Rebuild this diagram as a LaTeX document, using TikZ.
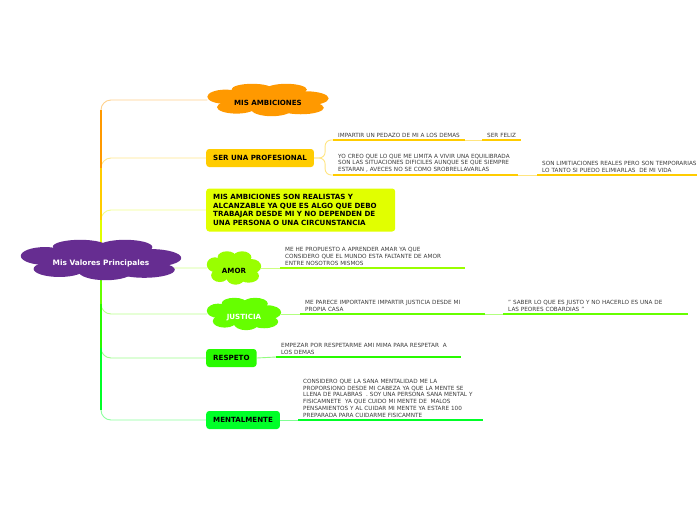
\documentclass[tikz,border=0pt]{standalone}
\usepackage{fontspec}
\setmainfont{DejaVu Sans}
\usetikzlibrary{positioning,calc,backgrounds}

\definecolor{rootcol}{RGB}{102,45,145}
\definecolor{ambcol}{RGB}{255,153,0}
\definecolor{sercol}{RGB}{255,204,0}
\definecolor{realcol}{RGB}{225,255,0}
\definecolor{amorcol}{RGB}{153,255,0}
\definecolor{justcol}{RGB}{102,255,0}
\definecolor{respcol}{RGB}{40,250,0}
\definecolor{mentcol}{RGB}{0,255,40}
\definecolor{notecol}{RGB}{60,60,60}

\begin{document}
\begin{tikzpicture}[
  x=1pt, y=-1pt,
  topic/.style={rectangle, rounded corners=3pt, anchor=west, minimum height=18pt, inner xsep=7pt, inner ysep=2pt, align=left, font=\bfseries\fontsize{7.1}{8.6}\selectfont},
  puff/.style={rectangle, inner sep=0pt, text height=11pt, text depth=0pt, font=\bfseries\fontsize{7.1}{8.6}\selectfont},
  note/.style={anchor=south west, text width=175pt, inner xsep=5pt, inner ysep=2.5pt, align=left, text=notecol, font=\fontsize{5.7}{6.8}\selectfont},
  uline/.style={line width=2.4pt},
  link/.style={line width=0.9pt, rounded corners=10pt},
  stem/.style={line width=1.6pt}
]
  \useasboundingbox (0,0) rectangle (697,520);

  % main topic and branches
  \node[puff, text=white, minimum width=160pt, minimum height=40pt, font=\bfseries\fontsize{7.4}{9}\selectfont] (root) at (101,260) {Mis Valores Principales};
  \node[puff, minimum width=121pt, minimum height=32pt] (amb) at (268,100) {MIS AMBICIONES};
  \node[topic, fill=sercol] (ser) at (206,158) {SER UNA PROFESIONAL};
  \node[topic, fill=realcol, text width=175pt, minimum height=43pt] (real) at (206,210) {MIS AMBICIONES SON REALISTAS Y\\ALCANZABLE YA QUE ES ALGO QUE DEBO\\TRABAJAR DESDE MI Y NO DEPENDEN DE\\UNA PERSONA O UNA CIRCUNSTANCIA};
  \node[puff, minimum width=54pt, minimum height=33pt] (amor) at (234,268) {AMOR};
  \node[puff, text=white, minimum width=74pt, minimum height=32pt] (just) at (244,314) {JUSTICIA};
  \node[topic, fill=respcol] (resp) at (206,358) {RESPETO};
  \node[topic, fill=mentcol] (ment) at (206,420) {MENTALMENTE};

  % notes
  \node[note, text width=122pt] (s1) at (333,140) {IMPARTIR UN PEDAZO DE MI A LOS DEMAS};
  \node[note, text width=29pt] (s2) at (482,140) {SER FELIZ};
  \node[note] (s3) at (333,175) {YO CREO QUE LO QUE ME LIMITA A VIVIR UNA EQUILIBRADA\\SON LAS SITUACIONES DIFICILES AUNQUE SE QUE SIEMPRE\\ESTARAN , AVECES NO SE COMO SROBRELLAVARLAS};
  \node[note, text width=165pt] (s4) at (537,175) {SON LIMITIACIONES REALES PERO SON TEMPORARIAS\\LO TANTO SI PUEDO ELIMIARLAS \ DE MI VIDA};
  \node[note] (a1) at (280,268) {ME HE PROPUESTO A APRENDER AMAR YA QUE\\CONSIDERO QUE EL MUNDO ESTA FALTANTE DE AMOR\\ENTRE NOSOTROS MISMOS};
  \node[note] (j1) at (300,314) {ME PARECE IMPORTANTE IMPARTIR JUSTICIA DESDE MI\\PROPIA CASA};
  \node[note] (j2) at (503,314) {" SABER LO QUE ES JUSTO Y NO HACERLO ES UNA DE\\LAS PEORES COBARDIAS "};
  \node[note] (r1) at (276,357) {EMPEZAR POR RESPETARME AMI MIMA PARA RESPETAR \ A\\LOS DEMAS};
  \node[note] (m1) at (298,420) {CONSIDERO QUE LA SANA MENTALIDAD ME LA\\PROPORSIONO DESDE MI CABEZA YA QUE LA MENTE SE\\LLENA DE PALABRAS \ . SOY UNA PERSONA SANA MENTAL Y\\FISICAMNETE \ YA QUE CUIDO MI MENTE DE \ MALOS\\PENSAMIENTOS Y AL CUIDAR MI MENTE YA ESTARE 100\\PREPARADA PARA CUIDARME FISICAMNTE};

  \begin{scope}[on background layer]
    \fill[white] (0,0) rectangle (697,520);
    % light curves from the trunk
    \foreach \t/\c in {amb/ambcol, ser/sercol, real/realcol, amor/amorcol, just/justcol, resp/respcol, ment/mentcol}
      \draw[link, \c!45] (root.center) |- (\t.west);
    % trunk, farthest first
    \foreach \t/\c/\s in {amb/ambcol/1, ser/sercol/1, real/realcol/1, ment/mentcol/-1, resp/respcol/-1, just/justcol/-1}
      \draw[stem, \c] (root.center) -- ($(root.center |- \t.west)+(0,10*\s)$);
    % links to notes
    \draw[link, sercol!50, rounded corners=6pt] (ser.east) -- ++(11,0) |- (s1.south west);
    \draw[link, sercol!50, rounded corners=6pt] (ser.east) -- ++(11,0) |- (s3.south west);
    \draw[link, sercol!50] (s1.south east) -- (s2.south west);
    \draw[link, sercol!50] (s3.south east) -- (s4.south west);
    \draw[link, amorcol!50] (amor.east) -- (a1.south west);
    \draw[link, justcol!50] (just.east) -- (j1.south west);
    \draw[link, justcol!50] (j1.south east) -- (j2.south west);
    \draw[link, respcol!50] (resp.east) -- (r1.south west);
    \draw[link, mentcol!50] (ment.east) -- (m1.south west);
    % cloud lumps behind the cloud topics
    \foreach \k/\c in {root/rootcol, amb/ambcol, amor/amorcol, just/justcol}
      \foreach \dx/\dy/\rx/\ry in {0/0/0.41/0.35, -0.35/0.1/0.15/0.22, -0.13/0.33/0.17/0.17, 0.15/0.32/0.17/0.18, 0.31/0.05/0.19/0.22, -0.26/-0.22/0.16/0.2, 0.03/-0.28/0.17/0.22, 0.27/-0.24/0.19/0.2}
        \fill[\c] let \p1=($(\k.north east)-(\k.south west)$) in ($(\k.center)+(\dx*\x1,\dy*\y1)$) ellipse [x radius=\rx*\x1, y radius=\ry*\y1];
  \end{scope}

  % underlines
  \foreach \k/\c in {s1/sercol, s2/sercol, s3/sercol, s4/sercol, a1/amorcol, j1/justcol, j2/justcol, r1/respcol, m1/mentcol}
    \draw[uline, \c] (\k.south west) -- (\k.south east);
\end{tikzpicture}
\end{document}
